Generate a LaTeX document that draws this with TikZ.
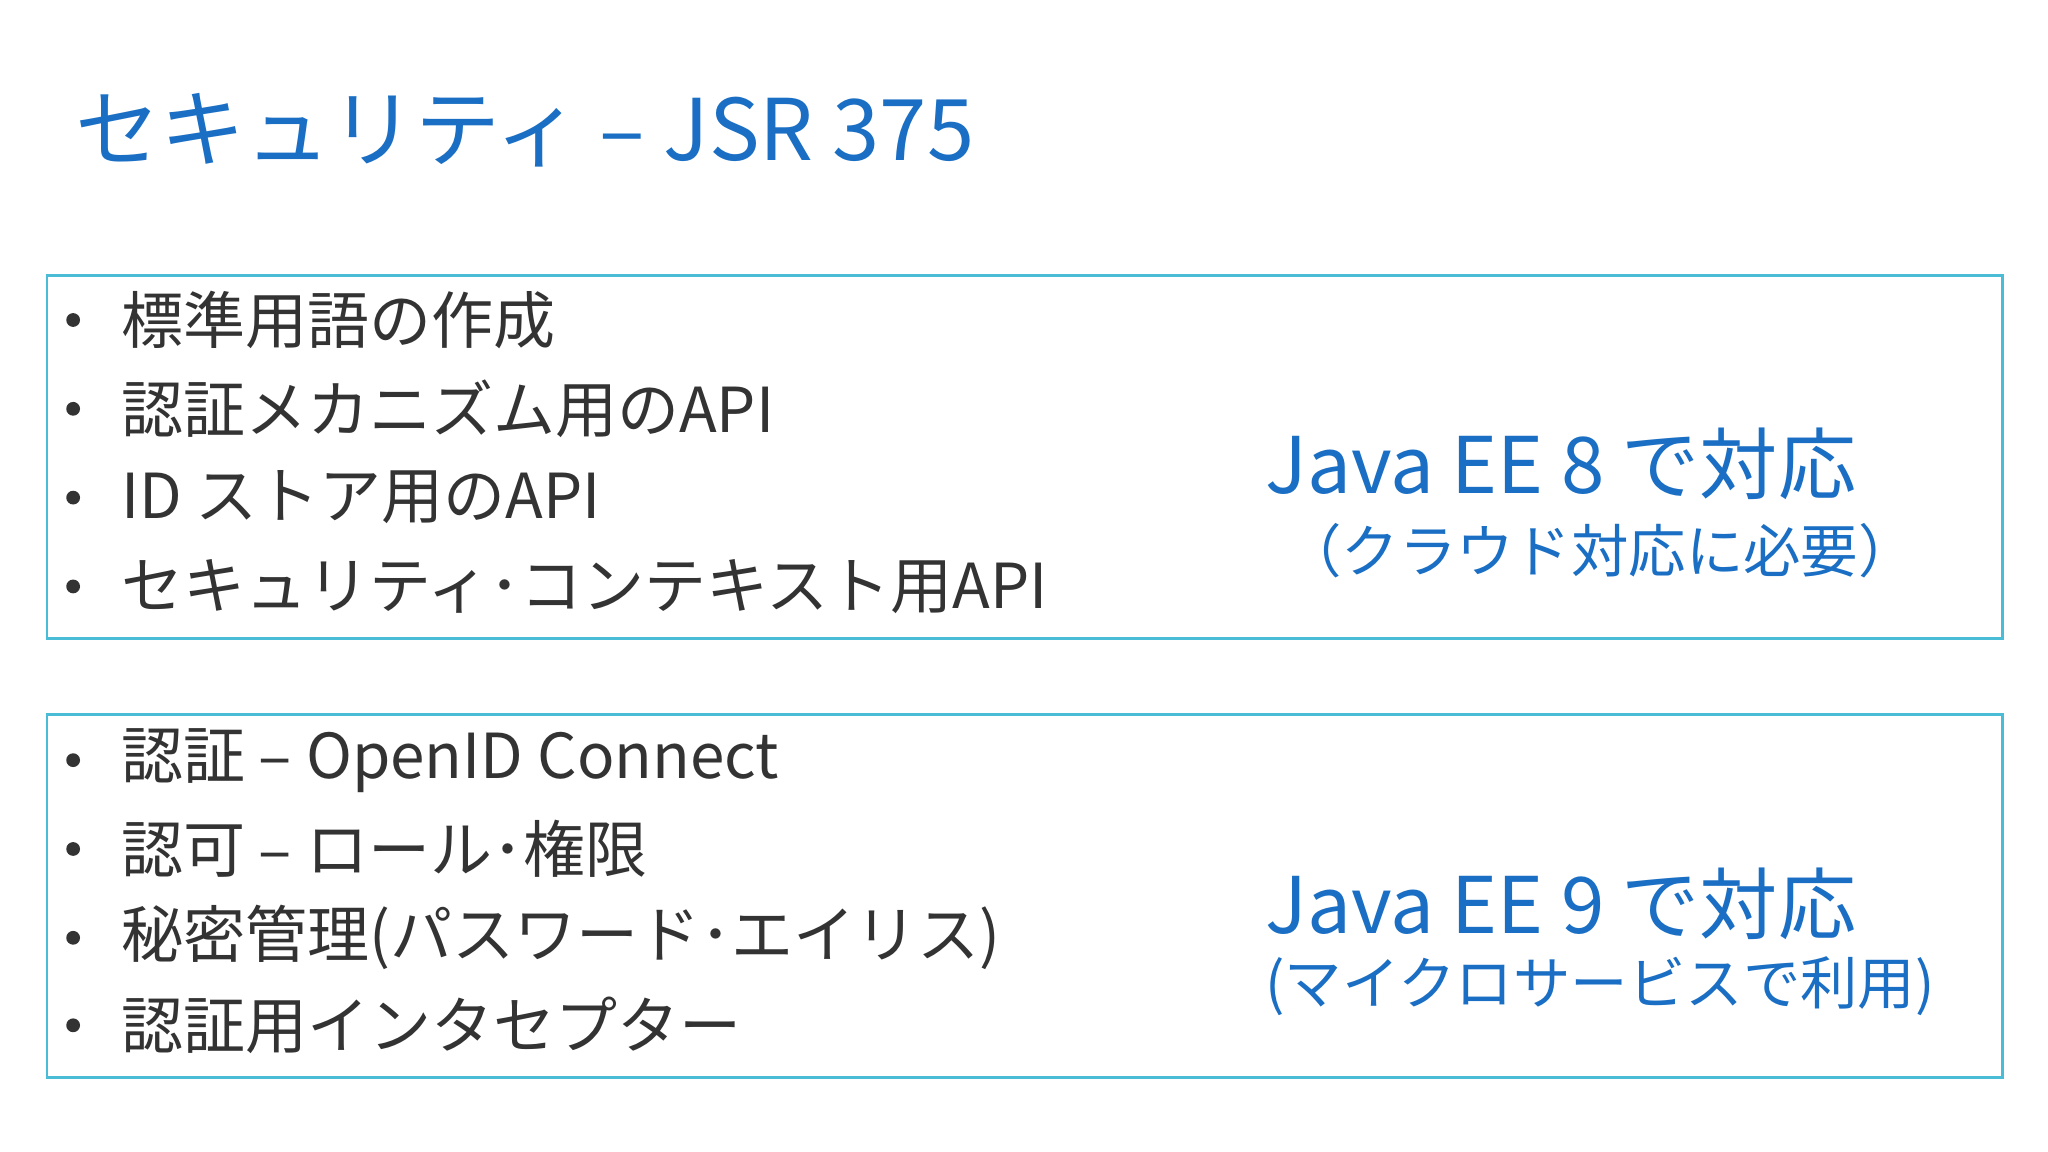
\documentclass[tikz,border=0pt]{standalone}
\usepackage{fontspec}
\setmainfont{Noto Sans CJK JP}
\definecolor{tblue}{HTML}{1A6FC4}
\definecolor{bcyan}{HTML}{4BBCD6}
\definecolor{tgray}{HTML}{333333}
\begin{document}
\begin{tikzpicture}[x=0.01cm,y=-0.01cm,
  box/.style={draw=bcyan,line width=0.6pt},
  item/.style={anchor=west,text=tgray,font=\fontsize{13.5}{16}\selectfont,inner sep=0},
  bul/.style={circle,fill=tgray,inner sep=0,minimum size=3pt},
  big/.style={text=tblue,font=\fontsize{17}{20}\selectfont,inner sep=0},
  sub/.style={text=tblue,font=\fontsize{12.5}{16}\selectfont,inner sep=0}]
\useasboundingbox[fill=white] (0,0) rectangle (1568,882);
\node[anchor=west,text=tblue,font=\fontsize{18.5}{24}\selectfont,inner sep=0] (title) at (57,100) {セキュリティ – JSR 375};
\draw[box] (36,211) rectangle (1533,489);
\draw[box] (36,547) rectangle (1533,825);
\foreach \y/\t [count=\i] in {245/標準用語の作成,313/認証メカニズム用のAPI,381/ID ストア用のAPI,449/セキュリティ･コンテキスト用API,582/認証 – OpenID Connect,650/認可 – ロール･権限,718/秘密管理(パスワード･エイリス),785/認証用インタセプター}{
  \node[bul] (b\i) at (56,\y) {};
  \node[item] (t\i) at (92,\y) {\t};
}
\node[big] (ee8) at (1195,355) {Java EE 8 で対応};
\node[sub] (s8) at (1225,422) {（クラウド対応に必要）};
\node[big] (ee9) at (1195,692) {Java EE 9 で対応};
\node[sub] (s9) at (1225,755) {(マイクロサービスで利用)};
\end{tikzpicture}
\end{document}
